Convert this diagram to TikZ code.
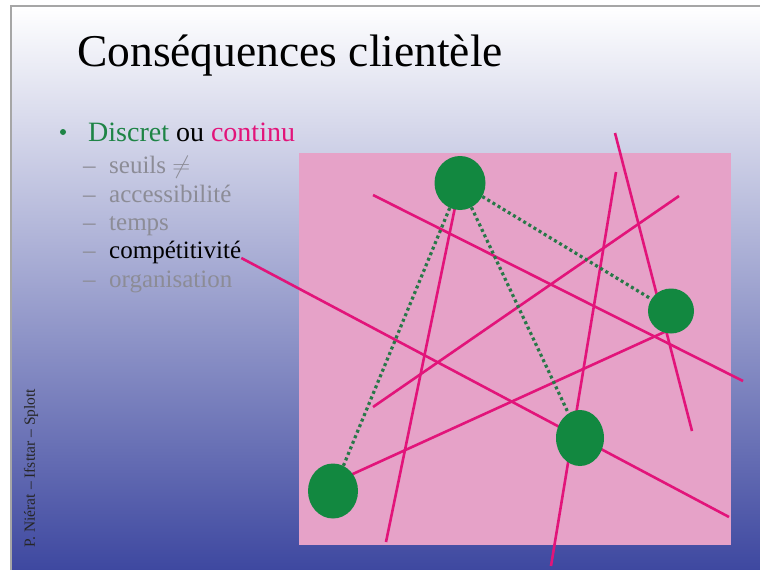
\documentclass[tikz,border=0pt]{standalone}
\usepackage{fontspec}
\setmainfont{Liberation Serif}
\usetikzlibrary{shapes.geometric,positioning}
\definecolor{fondbleu}{RGB}{62,72,160}
\definecolor{rose}{RGB}{230,162,200}
\definecolor{trait}{RGB}{226,20,122}
\definecolor{vertpole}{RGB}{18,136,64}
\definecolor{vertlien}{RGB}{40,120,72}
\definecolor{vertpuce}{RGB}{30,132,70}
\definecolor{grisitem}{RGB}{140,140,150}
\pgfdeclarelayer{fond}
\pgfdeclarelayer{reseau}
\pgfsetlayers{fond,reseau,main}

\begin{document}
\begin{tikzpicture}[x=1pt,y=-1pt,
pole/.style={ellipse,fill=vertpole,inner sep=0pt},
ligne/.style={draw=trait,line width=2.6pt},
lien/.style={draw=vertlien,line width=3.2pt,dash pattern=on 3pt off 3pt},
item/.style={anchor=base west,font=\fontsize{25}{30}\selectfont,text=grisitem,inner sep=0pt}]
\useasboundingbox (0,0) rectangle (760,570);
\begin{pgfonlayer}{fond}
\fill[white] (0,0) rectangle (760,570);
\shade[top color=white,bottom color=fondbleu] (11,6) rectangle (760,570);
\draw[gray!70,line width=1.5pt] (11,570)--(11,6)--(760,6);
\fill[rose] (299,153) rectangle (731,545);
\end{pgfonlayer}

\node[anchor=base west,font=\fontsize{45.5}{50}\selectfont,inner sep=0pt] (titre) at (77,66) {Conséquences clientèle};
\node[circle,fill=vertpuce,minimum size=6pt,inner sep=0pt] (puce) at (63,132) {};
\node[anchor=base west,font=\fontsize{28}{32}\selectfont,inner sep=0pt] (theme) at (88,141) {\textcolor{vertpuce}{Discret} ou \textcolor{trait}{continu}};
\foreach \txt/\yy/\nom in {seuils $\neq$/173/seuils,accessibilité/202/access,temps/230/temps,organisation/287/orga}
  \node[item] (\nom) at (109,\yy) {\txt};
\node[item,text=black] (compet) at (109,258) {compétitivité};
\foreach \yy [count=\i] in {173,202,230,258,287}
  \node[item] (tiret\i) at (83,\yy) {–};
\node[rotate=90,font=\fontsize{15.5}{18}\selectfont,text=black!85] (pied) at (31,468) {P. Niérat – Ifsttar – Splott};

\node[pole,minimum width=51pt,minimum height=54pt] (pnord) at (460,183) {};
\node[pole,minimum width=46pt,minimum height=45pt] (pest) at (671,311) {};
\node[pole,minimum width=48pt,minimum height=56pt] (psud) at (580,438) {};
\node[pole,minimum width=50pt,minimum height=55pt] (pouest) at (333,491) {};

\coordinate (f1) at (729,517);
\coordinate (d2) at (373,195); \coordinate (f2) at (743,381);
\coordinate (d3) at (615,133); \coordinate (f3) at (692,431);
\coordinate (d4) at (616,172); \coordinate (f4) at (551,566);
\coordinate (d5) at (679,196); \coordinate (f5) at (373,407);
\coordinate (f6) at (386,542);
\begin{pgfonlayer}{reseau}
\draw[ligne] (compet.base east)--(f1);
\draw[ligne] (d2)--(f2); \draw[ligne] (d3)--(f3); \draw[ligne] (d4)--(f4); \draw[ligne] (d5)--(f5);
\draw[ligne] (pnord.center)--(f6);
\draw[ligne] ([yshift=8pt]pouest.center)--([yshift=-18pt]pest.center);
\end{pgfonlayer}
\draw[lien] (pnord)--(pouest); \draw[lien] (pnord)--(psud); \draw[lien] (pnord)--(pest);
\end{tikzpicture}
\end{document}
